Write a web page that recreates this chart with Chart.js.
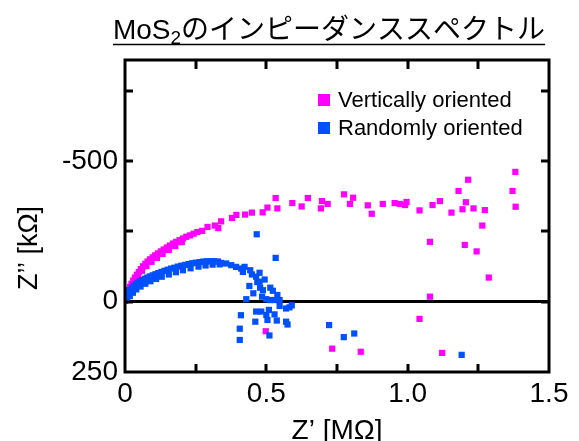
<!DOCTYPE html>
<html>
<head>
<meta charset="utf-8">
<script src="https://cdn.jsdelivr.net/npm/chart.js@4"></script>
<style>
  html, body { margin: 0; padding: 0; background: #fff; }
  #wrap { width: 579px; height: 441px; }
</style>
</head>
<body>
<div id="wrap"><canvas id="nyquist"></canvas></div>
<script>
// Z' in MΩ, Z'' in kΩ (negative = capacitive, drawn upward)
const vertRe = [0.002, 0.005, 0.009, 0.013, 0.018, 0.023, 0.029, 0.035, 0.042, 0.049, 0.056, 0.064, 0.072, 0.080,
  0.089, 0.098, 0.107, 0.117, 0.127, 0.137, 0.148, 0.159, 0.170, 0.181, 0.193, 0.205, 0.217, 0.230, 0.243, 0.256,
  0.273, 0.292, 0.318, 0.330, 0.340, 0.379, 0.394, 0.425, 0.449, 0.487, 0.504, 0.533, 0.539, 0.592, 0.625, 0.647,
  0.693, 0.697, 0.717, 0.775, 0.796, 0.807, 0.859, 0.873, 0.912, 0.954, 0.972, 0.991, 0.996, 1.042, 1.079, 1.079,
  1.042, 1.088, 1.114, 1.155, 1.180, 1.194, 1.206, 1.202, 1.214, 1.233, 1.244, 1.264, 1.273, 1.287, 1.371, 1.381,
  1.382, 0.733, 0.834, 1.122, 0.498,
  0.010, 0.020, 0.032, 0.046, 0.060, 0.076, 0.094, 0.113, 0.133, 0.155, 0.178, 0.201];
const vertIm = [-8, -18, -30, -42, -53, -64, -75, -86, -96, -106, -116, -126, -135, -143,
  -151, -158, -165, -172, -179, -186, -193, -200, -207, -213, -219, -225, -231, -236, -242, -248,
  -252, -266, -271, -262, -286, -298, -309, -310, -317, -318, -335, -369, -332, -351, -339, -369,
  -332, -358, -348, -382, -348, -370, -343, -313, -348, -351, -348, -344, -355, -325, -213, -18,
  61, -344, -358, -317, -394, -329, -354, -202, -434, -332, -179, -271, -326, -86, -394, -462,
  -338, 167, 178, 182, 105,
  -30, -52, -72, -92, -110, -127, -142, -156, -170, -184, -198, -212];

const randRe = [0.001, 0.003, 0.006, 0.010, 0.014, 0.019, 0.025, 0.031, 0.038, 0.045, 0.053, 0.061, 0.070, 0.079,
  0.088, 0.098, 0.108, 0.118, 0.129, 0.140, 0.151, 0.163, 0.175, 0.187, 0.199, 0.212, 0.225, 0.238, 0.251, 0.264,
  0.277, 0.290, 0.303, 0.316, 0.329, 0.340, 0.358, 0.376, 0.393, 0.411, 0.423, 0.417, 0.443, 0.449, 0.464, 0.476,
  0.468, 0.476, 0.494, 0.478, 0.488, 0.514, 0.523, 0.539, 0.440, 0.454, 0.429, 0.485, 0.500, 0.514, 0.529, 0.547,
  0.547, 0.570, 0.582, 0.590, 0.464, 0.482, 0.509, 0.500, 0.529, 0.410, 0.461, 0.504, 0.537, 0.570, 0.575, 0.406,
  0.511, 0.406, 0.466, 0.533, 0.722, 0.774, 0.811, 1.191,
  0.008, 0.017, 0.028, 0.040, 0.055, 0.072, 0.090, 0.110, 0.130, 0.155, 0.180, 0.205, 0.232, 0.260, 0.285, 0.310, 0.335];
const randIm = [-4, -12, -20, -28, -36, -43, -50, -56, -62, -67, -72, -77, -82, -86,
  -90, -94, -98, -102, -106, -110, -114, -118, -121, -125, -128, -131, -134, -137, -139, -141,
  -143, -144, -144, -144, -143, -138, -136, -130, -124, -118, -124, -106, -112, -97, -89, -103,
  -70, -71, -79, -50, -41, -50, -39, -24, -56, -30, -9, -18, -9, -6, -6, -6,
  15, 24, 20, 13, 35, 35, 29, 47, 45, 48, 71, 65, 67, 71, 81, 96,
  120, 136, -240, -156, 83, 126, 113, 189,
  -8, -20, -32, -44, -54, -64, -73, -81, -89, -97, -105, -112, -119, -125, -129, -132, -133];

const seriesNames = ['Vertically oriented', 'Randomly oriented'];
const seriesColors = ['#ff00ff', '#0050ff'];
const xTicks = [0, 0.25, 0.5, 0.75, 1.0, 1.25, 1.5];
const xLabelled = [0, 0.5, 1.0, 1.5];
const yTicks = [-750, -500, -250, 0, 250];
const yLabelled = [-500, 0, 250];
// title pieces: "MoS" + subscript "2" + rest
const titleParts = ['MoS', '2', 'のインピーダンススペクトル'];

const FONT = '"Liberation Sans", Arial, "Noto Sans CJK JP", sans-serif';

function toPoints(xs, ys) {
  return xs.map((x, i) => ({ x: x, y: ys[i] }));
}

// frame + inward tick marks on all four sides
const framePlugin = {
  id: 'frame',
  afterDatasetsDraw(chart) {
    const { ctx, chartArea: a } = chart;
    const xs = chart.scales.x, ys = chart.scales.y;
    ctx.save();
    ctx.strokeStyle = '#000';
    ctx.lineWidth = 3;
    ctx.strokeRect(a.left, a.top, a.right - a.left, a.bottom - a.top);
    ctx.beginPath();
    xTicks.slice(1, -1).forEach(v => {
      const px = Math.round(xs.getPixelForValue(v));
      ctx.moveTo(px, a.bottom); ctx.lineTo(px, a.bottom - 8);
      ctx.moveTo(px, a.top); ctx.lineTo(px, a.top + 9);
    });
    yTicks.slice(0, -1).forEach(v => {
      const py = Math.round(ys.getPixelForValue(v));
      ctx.moveTo(a.left, py); ctx.lineTo(a.left + 8, py);
      ctx.moveTo(a.right, py); ctx.lineTo(a.right - 8, py);
    });
    ctx.stroke();
    ctx.restore();
  }
};

const legendPlugin = {
  id: 'insideLegend',
  afterDraw(chart) {
    const { ctx, chartArea: a } = chart;
    ctx.save();
    ctx.font = '22px ' + FONT;
    ctx.textBaseline = 'middle';
    chart.data.datasets.forEach((ds, i) => {
      const cy = a.top + 40 + i * 28;
      ctx.fillStyle = ds.backgroundColor;
      ctx.fillRect(a.left + 193, cy - 6, 12, 12);
      ctx.fillStyle = '#000';
      ctx.fillText(ds.label, a.left + 213, cy + 1);
    });
    ctx.restore();
  }
};

const yTitlePlugin = {
  id: 'yTitle',
  afterDraw(chart) {
    const { ctx, chartArea: a } = chart;
    ctx.save();
    ctx.translate(30, (a.top + a.bottom) / 2 + 32);
    ctx.rotate(-Math.PI / 2);
    ctx.font = '27px ' + FONT;
    ctx.fillStyle = '#000';
    ctx.textAlign = 'center';
    ctx.textBaseline = 'middle';
    ctx.fillText('Z’’ [kΩ]', 0, 0);
    ctx.restore();
  }
};

// underlined title with a real subscript
const titlePlugin = {
  id: 'subTitle',
  afterDraw(chart) {
    const { ctx, chartArea: a } = chart;
    const big = '28px ' + FONT, small = '19px ' + FONT;
    ctx.save();
    ctx.fillStyle = '#000';
    ctx.textBaseline = 'alphabetic';
    ctx.font = big;
    const w0 = ctx.measureText(titleParts[0]).width;
    const w2 = ctx.measureText(titleParts[2]).width;
    ctx.font = small;
    const w1 = ctx.measureText(titleParts[1]).width;
    const total = w0 + w1 + w2;
    const x0 = (a.left + a.right) / 2 - 8 - total / 2;
    const base = 39;
    ctx.font = big;
    ctx.fillText(titleParts[0], x0, base);
    ctx.font = small;
    ctx.fillText(titleParts[1], x0 + w0, base + 5);
    ctx.font = big;
    ctx.fillText(titleParts[2], x0 + w0 + w1, base);
    ctx.strokeStyle = '#000';
    ctx.lineWidth = 1.5;
    ctx.beginPath();
    ctx.moveTo(x0, 44.5);
    ctx.lineTo(x0 + total, 44.5);
    ctx.stroke();
    ctx.restore();
  }
};

new Chart(document.getElementById('nyquist'), {
  type: 'scatter',
  data: {
    datasets: [
      {
        label: seriesNames[0],
        data: toPoints(vertRe, vertIm),
        backgroundColor: seriesColors[0],
        pointStyle: 'rect',
        pointRadius: 4.4,
        borderWidth: 0,
        order: 1
      },
      {
        label: seriesNames[1],
        data: toPoints(randRe, randIm),
        backgroundColor: seriesColors[1],
        pointStyle: 'rect',
        pointRadius: 4.4,
        borderWidth: 0,
        order: 0
      }
    ]
  },
  options: {
    responsive: true,
    maintainAspectRatio: false,
    animation: false,
    devicePixelRatio: 1,
    layout: { padding: { left: 0, right: 30, top: 60, bottom: 0 } },
    plugins: {
      legend: { display: false },
      tooltip: { enabled: false },
      title: { display: false }
    },
    scales: {
      x: {
        type: 'linear',
        min: 0,
        max: 1.5,
        afterBuildTicks: s => { s.ticks = xTicks.map(v => ({ value: v })); },
        afterFit: s => { s.height = 69; },
        ticks: {
          color: '#000',
          font: { family: FONT, size: 28 },
          padding: 5,
          maxRotation: 0,
          autoSkip: false,
          callback: v => xLabelled.includes(v) ? (v === 0 ? '0' : v.toFixed(1)) : ''
        },
        grid: { display: false, drawTicks: false },
        border: { display: false },
        title: {
          display: true,
          text: 'Z’ [MΩ]',
          color: '#000',
          font: { family: FONT, size: 28, lineHeight: 1 },
          padding: { top: 0, bottom: -4 }
        }
      },
      y: {
        type: 'linear',
        min: -860,
        max: 250,
        reverse: true,
        afterBuildTicks: s => { s.ticks = yTicks.map(v => ({ value: v })); },
        afterFit: s => { s.width = 125; },
        ticks: {
          color: '#000',
          font: { family: FONT, size: 28 },
          padding: 7,
          autoSkip: false,
          callback: v => yLabelled.includes(v) ? String(v) : ''
        },
        grid: {
          drawTicks: false,
          color: c => c.tick && c.tick.value === 0 ? '#000' : 'rgba(0,0,0,0)',
          lineWidth: c => c.tick && c.tick.value === 0 ? 3 : 0
        },
        border: { display: false }
      }
    }
  },
  plugins: [framePlugin, legendPlugin, yTitlePlugin, titlePlugin]
});
</script>
</body>
</html>
